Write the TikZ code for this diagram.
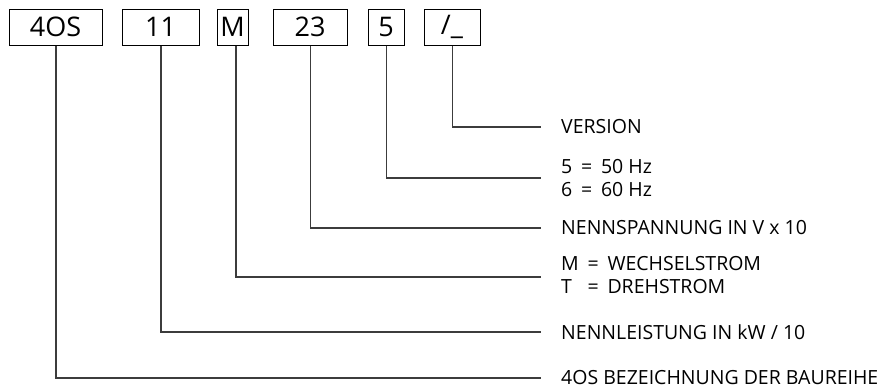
\documentclass[tikz,border=0pt]{standalone}
\usepackage{fontspec}
\setmainfont{Open Sans}
\usetikzlibrary{positioning}
\definecolor{leadgray}{RGB}{60,60,60}
\newcommand{\eqs}{\hspace{0.45em}=\hspace{0.45em}}

\begin{document}
\begin{tikzpicture}[
  x=1pt, y=-1pt,
  codebox/.style={draw, line width=1pt, font=\fontsize{27}{30}\selectfont, minimum height=36pt, inner sep=0pt},
  lbl/.style={anchor=west, font=\fontsize{19.5}{23}\selectfont, inner sep=0pt, align=left},
  lead/.style={draw=leadgray, line width=1.1pt},
]
\useasboundingbox (0,0) rectangle (880,389);

% code boxes
\node[codebox, minimum width=93pt] (c4os) at (55.5,27) {4OS};
\node[codebox, minimum width=77pt] (c11) at (160.5,27) {11};
\node[codebox, minimum width=31pt] (cM) at (232.5,27) {M};
\node[codebox, minimum width=74pt] (c23) at (310,27) {23};
\node[codebox, minimum width=36pt] (c5) at (386,27) {5};
\node[codebox, minimum width=56pt] (cver) at (452,27) {/\_};

% line ends
\coordinate (ever) at (541,127);
\coordinate (e5) at (541,178);
\coordinate (e23) at (541,228);
\coordinate (eM) at (541,277);
\coordinate (e11) at (541,332);
\coordinate (e4os) at (541,378);

% labels
\node[lbl, right=20pt of ever] (lver) {VERSION};
\node[lbl, right=20pt of e5] (l5) {5\eqs50 Hz\\6\eqs60 Hz};
\node[lbl, right=20pt of e23] (l23) {NENNSPANNUNG IN V x 10};
\node[lbl, right=20pt of eM] (lM) {\begin{tabular}{@{}l@{}l@{}}M & \eqs WECHSELSTROM\\T & \eqs DREHSTROM\end{tabular}};
\node[lbl, right=20pt of e11] (l11) {NENNLEISTUNG IN kW / 10};
\node[lbl, right=20pt of e4os] (l4os) {4OS BEZEICHNUNG DER BAUREIHE};

% leaders
\foreach \b/\e in {c4os/e4os, c11/e11, c23/e23, c5/e5, cver/ever}{
  \draw[lead] ([xshift=0.5pt]\b.south) |- (\e);
}
\draw[lead] ([xshift=3.5pt]cM.south) |- (eM);
\end{tikzpicture}
\end{document}
